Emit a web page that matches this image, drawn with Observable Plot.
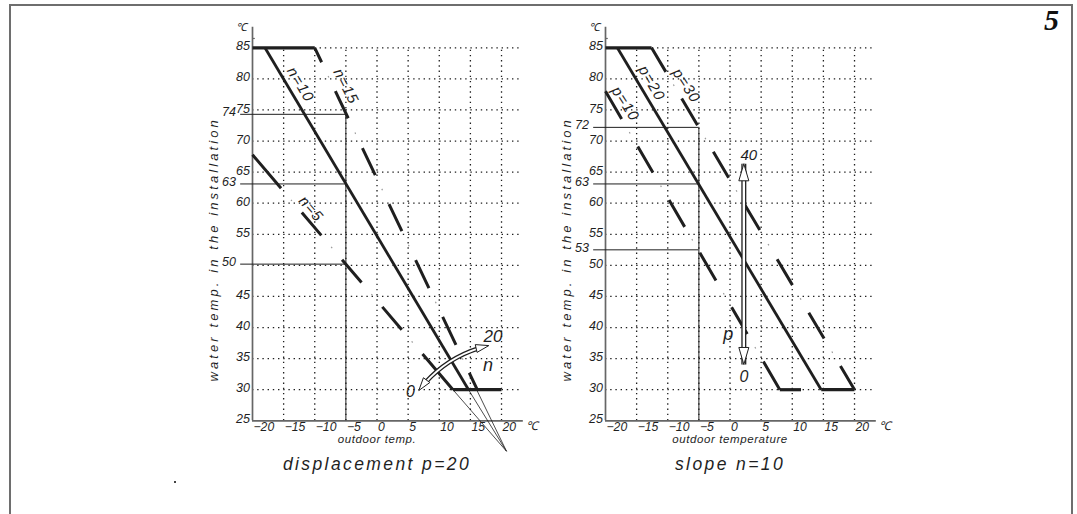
<!DOCTYPE html>
<html><head><meta charset="utf-8">
<script src="https://cdn.jsdelivr.net/npm/d3@7"></script>
<script src="https://cdn.jsdelivr.net/npm/@observablehq/plot@0.6"></script>
<style>
html,body{margin:0;padding:0;background:#fff;}
#page{position:relative;width:1077px;height:514px;overflow:hidden;background:#fff;}
#frame{position:absolute;left:9px;top:4px;width:1060px;height:530px;border:2px solid #6e6e6e;border-bottom:none;}
#num{position:absolute;left:1044px;top:5px;font:bold italic 30px "Liberation Serif","DejaVu Serif",serif;line-height:1;color:#111;}
#speck{position:absolute;left:174px;top:481px;width:1.5px;height:1.5px;background:#444;}
.chart{position:absolute;top:0;}
</style></head><body>
<div id="page"><div id="frame"></div><div id="num">5</div><div id="speck"></div>
<div id="left" class="chart" style="left:180px"></div>
<div id="right" class="chart" style="left:533px"></div></div>
<script>
// ---------- shared axes ----------
const xTicks = [-20, -15, -10, -5, 0, 5, 10, 15, 20];
const yTicks = [25, 30, 35, 40, 45, 50, 55, 60, 65, 70, 75, 80, 85];
const gridX = [-15, -10, -5, 0, 5, 10, 15, 20];
const gridY = [30, 35, 40, 45, 50, 55, 60, 65, 70, 75, 80, 85];
const yTitle = "water temp. in the installation";

// ---------- left chart: displacement p=20, slope n varies ----------
const leftCapTop = [[-20, 85], [-10, 85]];
const leftCapBottom = [[12.2, 30], [20, 30]];
const leftN10 = [[-18, 85], [14.7, 30]];
const leftN15 = [[-10, 85], [16.1, 30]];
const leftN5 = [[-20, 67.8], [12.2, 30]];
const leftRefValues = [74.3, 63.1, 50.2];
const leftRefLabels = ["74", "63", "50"];
const leftRefX = -5;
const leftFanEnds = [12.2, 14.7, 16.0];
const leftFanPoint = [20.8, 20.1];
const leftLineLabels = [
  {text: "n=10", x: -12.3, y: 79.1, rotate: 59},
  {text: "n=15", x: -5.0, y: 78.8, rotate: 63},
  {text: "n=5", x: -10.6, y: 59.1, rotate: 49}
];
const leftArc = {x1: 6.71, y1: 29.87, x2: 17.96, y2: 37.1};
const leftArcLabels = [
  {text: "20", x: 18.63, y: 38.56, size: 17},
  {text: "n", x: 17.83, y: 33.9, size: 18},
  {text: "0", x: 5.38, y: 29.7, size: 16}
];

// ---------- right chart: slope n=10, displacement p varies ----------
const rightCapTop = [[-20, 85], [-12.6, 85]];
const rightCapBottom = [[14.65, 30], [20, 30]];
const rightP10Cap = [[8, 30], [11.4, 30]];
const rightP20 = [[-18.1, 85], [14.65, 30]];
const rightP30 = [[-12.6, 85], [20, 30]];
const rightP10 = [[-20, 78], [8, 30]];
const rightRefValues = [72.2, 63.1, 52.5];
const rightRefLabels = ["72", "63", "53"];
const rightRefX = -5;
const rightLineLabels = [
  {text: "p=20", x: -12.6, y: 79.3, rotate: 60},
  {text: "p=30", x: -7.0, y: 78.9, rotate: 57},
  {text: "p=10", x: -16.8, y: 76.0, rotate: 57}
];
const rightArrow = {x: 2.22, y1: 66.34, y2: 34.06};
const rightArrowLabels = [
  {text: "40", x: 3.02, y: 67.66, size: 15},
  {text: "0", x: 2.22, y: 32.0, size: 16},
  {text: "p", x: -0.29, y: 39.0, size: 18}
];

// ---------- styles ----------
const FONT = "'Liberation Sans', Arial, sans-serif";
const INK = "#1f1f1f";
const AXIS = "#666";
const DOTS = "1.4,3.8";
const dashN15 = "16,32,30,33,30,32,30,32,31,32,31,31,30";
const dashN5 = "44,32,30,32,30,32,30,32,50";
const dashP30 = "28,31,31,31,30,31,30,34,30,32,30,32,30";
const dashP10 = "32,32,30,32,31,30,32,31,31,32,40";
const spacing = {[yTitle]: 3.1, "outdoor temp.": 0.6, "outdoor temperature": 0.6,
  "displacement p=20": 2.4, "slope n=10": 2.4, "n=10": 1, "n=15": 1, "n=5": 1, "p=10": 1, "p=20": 1, "p=30": 1};

function gapDots(pattern, mark = 1.6) {
  const a = pattern.split(",").map(Number);
  const out = [0];
  let acc = 0;
  for (let i = 0; i < a.length; i++) {
    if (i % 2 === 0) acc += a[i];
    else { acc += a[i] / 2 - mark / 2; out.push(acc, mark); acc = a[i] / 2 - mark / 2; }
  }
  out.push(acc + 1000);
  return out.join(",");
}

function head(angleDeg, len, wid) {
  const a = angleDeg * Math.PI / 180, c = Math.cos(a), s = Math.sin(a);
  const pts = [[0, 0], [wid / 2, len], [-wid / 2, len]].map(([x, y]) => [x * c - y * s, x * s + y * c]);
  return {draw(ctx) { ctx.moveTo(...pts[0]); ctx.lineTo(...pts[1]); ctx.lineTo(...pts[2]); ctx.closePath(); }};
}

const T = {fontFamily: FONT, fontStyle: "italic", fill: INK};

function dashed(data, pattern) {
  return [
    Plot.line(data, {stroke: INK, strokeWidth: 3, strokeDasharray: pattern, strokeLinecap: "butt"}),
    Plot.line(data, {stroke: "#9a9a9a", strokeWidth: 1.2, strokeDasharray: gapDots(pattern), strokeLinecap: "butt"})
  ];
}
function solid(data, w = 3) {
  return Plot.line(data, {stroke: INK, strokeWidth: w, strokeLinecap: "butt"});
}

function frameMarks(refValues, refLabels, refX, xTitle, caption) {
  const tickLabels = yTicks.filter(v => !refLabels.includes(String(v)));
  return [
    Plot.ruleX(gridX, {y1: 25, y2: 85, stroke: INK, strokeWidth: 1.3, strokeDasharray: DOTS}),
    Plot.ruleY(gridY, {x1: -20, x2: 23, stroke: INK, strokeWidth: 1.3, strokeDasharray: DOTS}),
    Plot.ruleX([-20], {y1: 25, y2: 88.3, stroke: AXIS, strokeWidth: 1.7}),
    Plot.ruleY([86.5], {x1: -20, x2: -19.55, stroke: AXIS, strokeWidth: 1.2}),
    Plot.ruleY([25], {x1: -20, x2: 23.5, stroke: AXIS, strokeWidth: 1.7}),
    Plot.text(tickLabels, {x: -20, y: d => d, text: d => String(d), textAnchor: "end", lineAnchor: "bottom", dx: -2.5, dy: 2.6, fontSize: 12.5, ...T}),
    Plot.text(xTicks, {x: d => d, y: 25, text: d => d < 0 ? "\u2212" + (-d) : String(d), textAnchor: "start", lineAnchor: "bottom", dx: 1, dy: 9.7, fontSize: 12.2, ...T}),
    Plot.text(["\u2103"], {frameAnchor: "top-left", textAnchor: "middle", lineAnchor: "middle", dx: -11.5, dy: -20.3, fontSize: 11, ...T}),
    Plot.text(["\u2103"], {x: 23.5, y: 25, dx: 3, dy: 5.5, textAnchor: "start", lineAnchor: "middle", fontSize: 12, ...T}),
    Plot.text([yTitle], {frameAnchor: "left", textAnchor: "middle", lineAnchor: "middle", dx: -39, dy: 15, rotate: -90, fontSize: 13, ...T}),
    Plot.text([xTitle], {x: 0, y: 25, dy: 21.7, textAnchor: "middle", lineAnchor: "bottom", fontSize: 11.5, ...T}),
    Plot.text([caption], {x: 0, y: 25, dy: 49, textAnchor: "middle", lineAnchor: "bottom", fontSize: 17.5, ...T}),
    Plot.ruleY(refValues, {x1: -21.9, x2: refX, stroke: INK, strokeWidth: 1}),
    Plot.ruleX([refX], {y1: 25, y2: d3.max(refValues), stroke: INK, strokeWidth: 1}),
    Plot.text(refValues, {x: -20, y: d => d, text: (d, i) => refLabels[i], textAnchor: "end", lineAnchor: "bottom", dx: -16.5, dy: 2, fontSize: 12.5, ...T})
  ];
}

function lineLabels(labels) {
  return labels.map(l => Plot.text([l], {x: "x", y: "y", text: "text", rotate: l.rotate, fontSize: 15, ...T}));
}
function freeLabels(labels) {
  return labels.map(l => Plot.text([l], {x: "x", y: "y", text: "text", fontSize: l.size, ...T}));
}

function makePlot(marks) {
  const svg = Plot.plot({
    width: 353, height: 514,
    marginLeft: 72, marginRight: 13.3, marginTop: 47.3, marginBottom: 93.7,
    x: {domain: [-20, 23], axis: null},
    y: {domain: [25, 85], axis: null},
    style: "background:none;overflow:visible;max-width:none;",
    marks
  });
  d3.select(svg).selectAll("text").each(function () {
    const s = spacing[this.textContent];
    if (s != null) this.style.letterSpacing = s + "px";
  });
  return svg;
}

// ---------- left ----------
const leftPlot = makePlot([
  ...frameMarks(leftRefValues, leftRefLabels, leftRefX, "outdoor temp.", "displacement p=20"),
  Plot.link(leftFanEnds, {x1: d => d, y1: 30, x2: leftFanPoint[0], y2: leftFanPoint[1], stroke: INK, strokeWidth: 0.8}),
  ...dashed(leftN15, dashN15),
  ...dashed(leftN5, dashN5),
  solid(leftN10, 2.8),
  solid(leftCapTop, 3.2),
  solid(leftCapBottom, 3.2),
  ...lineLabels(leftLineLabels),
  Plot.arrow([leftArc], {x1: "x1", y1: "y1", x2: "x2", y2: "y2", bend: 20, headLength: 0, inset: 10, stroke: INK, strokeWidth: 4.4}),
  Plot.arrow([leftArc], {x1: "x1", y1: "y1", x2: "x2", y2: "y2", bend: 20, headLength: 0, inset: 9, stroke: "white", strokeWidth: 2}),
  Plot.dot([leftArc], {x: "x1", y: "y1", symbol: head(217, 13, 8), r: 5, fill: "white", stroke: INK, strokeWidth: 1}),
  Plot.dot([leftArc], {x: "x2", y: "y2", symbol: head(77, 13, 8), r: 5, fill: "white", stroke: INK, strokeWidth: 1}),
  ...freeLabels(leftArcLabels)
]);
document.getElementById("left").appendChild(leftPlot);

// ---------- right ----------
const rightPlot = makePlot([
  ...frameMarks(rightRefValues, rightRefLabels, rightRefX, "outdoor temperature", "slope n=10"),
  ...dashed(rightP30, dashP30),
  ...dashed(rightP10, dashP10),
  solid(rightP20, 2.8),
  solid(rightCapTop, 3.2),
  solid(rightCapBottom, 3.2),
  solid(rightP10Cap, 3.2),
  ...lineLabels(rightLineLabels),
  Plot.link([rightArrow], {x1: "x", x2: "x", y1: "y1", y2: "y2", stroke: INK, strokeWidth: 5}),
  Plot.link([rightArrow], {x1: "x", x2: "x", y1: "y1", y2: "y2", stroke: "white", strokeWidth: 2.4}),
  Plot.dot([rightArrow], {x: "x", y: "y1", symbol: head(0, 17, 10), r: 5, fill: "white", stroke: INK, strokeWidth: 1}),
  Plot.dot([rightArrow], {x: "x", y: "y2", symbol: head(180, 17, 10), r: 5, fill: "white", stroke: INK, strokeWidth: 1}),
  ...freeLabels(rightArrowLabels)
]);
document.getElementById("right").appendChild(rightPlot);
</script></body></html>
